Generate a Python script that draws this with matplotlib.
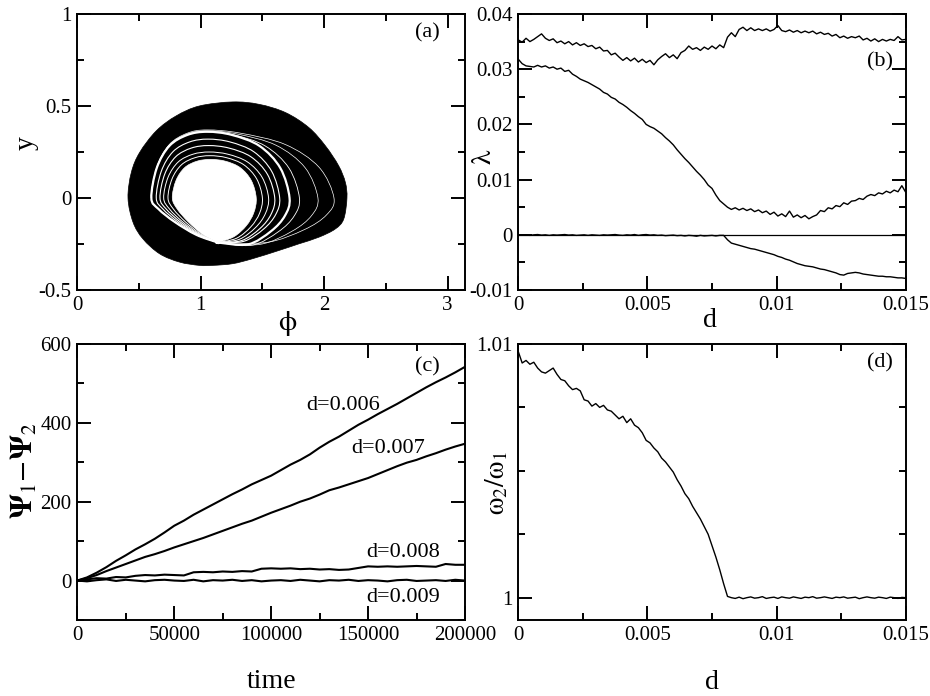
import numpy as np
import matplotlib
matplotlib.use('agg')
from matplotlib import pyplot as plt
from matplotlib.path import Path
from matplotlib.patches import PathPatch
from matplotlib.ticker import MultipleLocator, FixedLocator, FuncFormatter

plt.rcParams['font.family'] = 'Liberation Serif'
plt.rcParams['mathtext.fontset'] = 'stix'
plt.rcParams['axes.unicode_minus'] = False

# ---- (a) attractor in the (phi, y) plane: outer edge, inner hole, gaps between orbit bands
outer_phi = [0.411, 0.452, 0.532, 0.667, 0.828, 0.989, 1.097, 1.258, 1.419, 1.634, 1.796, 1.957,
             2.091, 2.159, 2.185, 2.172, 2.118, 2.011, 1.876, 1.688, 1.473, 1.258, 0.989, 0.801,
             0.640, 0.505, 0.438]
outer_y = [0.0, -0.132, -0.222, -0.303, -0.348, -0.366, -0.366, -0.357, -0.330, -0.285, -0.249, -0.213,
           -0.168, -0.114, 0.0, 0.085, 0.175, 0.283, 0.383, 0.464, 0.509, 0.522, 0.500, 0.446,
           0.365, 0.247, 0.139]

hole_phi = [0.77, 0.80, 0.87, 0.97, 1.08, 1.20, 1.32, 1.41, 1.45, 1.43, 1.37, 1.27, 1.14, 1.14,
            1.02, 0.90, 0.81]
hole_y = [0.0, 0.095, 0.165, 0.20, 0.21, 0.20, 0.165, 0.095, 0.0, -0.08, -0.15, -0.21, -0.242, -0.242,
          -0.20, -0.13, -0.06]
cusp_phi = 1.14

gap_left = [0.60, 0.64, 0.67, 0.70, 0.735, 0.60, 0.60, 0.60]
gap_right = [1.72, 1.64, 1.60, 1.55, 1.50, 1.80, 1.95, 2.08]
gap_top = [0.36, 0.32, 0.285, 0.25, 0.23, 0.36, 0.365, 0.37]
gap_bottom = [1.2, 1.12, 1.1, 1.07, 1.04, 1.22, 1.2, 1.15]
gap_lw = [1.6, 0.8, 0.8, 0.7, 0.7, 0.6, 0.5, 0.5]

# ---- (b) Lyapunov exponents vs coupling d
d_lyap = np.arange(101) * 0.00015
lam1 = [35.3, 34.9, 35.6, 35.0, 35.4, 35.9, 36.4, 35.6, 35.2, 35.5, 34.8, 35.1, 34.6, 35.0, 34.4,
        34.8, 34.3, 34.6, 34.1, 34.3, 33.7, 34.0, 33.3, 33.4, 32.6, 32.9, 32.2, 31.6, 32.1, 31.5,
        32.0, 31.3, 31.8, 31.2, 31.6, 30.8, 31.7, 32.3, 32.8, 32.1, 32.6, 31.9, 33.0, 33.4, 34.2,
        33.6, 33.9, 33.4, 34.0, 33.6, 34.2, 33.7, 34.4, 33.9, 35.8, 36.6, 35.9, 37.2, 37.6, 37.0,
        37.5, 37.0, 37.3, 37.0, 37.3, 36.9, 37.2, 37.9, 37.0, 36.8, 37.1, 36.7, 37.0, 36.6, 36.9,
        36.6, 36.9, 36.4, 36.7, 36.3, 36.5, 36.0, 36.3, 35.7, 36.0, 35.6, 35.9, 35.7, 36.0, 35.3,
        35.6, 35.1, 35.5, 35.0, 35.4, 35.1, 35.4, 35.2, 35.9, 35.3, 35.4]
lam2 = [31.8, 31.0, 30.6, 30.5, 30.4, 30.7, 30.4, 30.6, 30.2, 30.4, 30.0, 30.2, 29.6, 29.8, 29.1,
        28.7, 28.2, 27.9, 27.6, 27.2, 26.8, 26.4, 25.8, 25.5, 24.9, 24.6, 24.0, 23.6, 23.1, 22.5,
        22.0, 21.4, 20.9, 20.0, 19.6, 19.3, 18.8, 18.3, 17.6, 17.0, 16.3, 15.4, 14.6, 13.8, 13.1,
        12.3, 11.5, 10.8, 10.0, 9.0, 8.4, 7.2, 6.2, 5.6, 5.0, 4.6, 4.9, 4.5, 4.8, 4.4,
        4.7, 4.2, 4.5, 4.0, 4.3, 3.7, 4.1, 3.4, 3.8, 3.3, 4.3, 3.2, 3.6, 3.1, 3.5,
        2.9, 3.3, 3.6, 4.4, 4.2, 4.9, 4.7, 5.3, 5.1, 5.8, 5.5, 6.1, 6.2, 6.6, 6.4,
        7.0, 7.3, 7.1, 7.6, 7.4, 7.9, 7.6, 8.1, 7.8, 8.9, 7.7]
lam3 = [0.0, -0.05, 0.0, -0.1, 0.0, 0.05, -0.05, 0.0, -0.1, 0.0, -0.05, 0.0, 0.05, -0.05, 0.0,
        -0.1, -0.05, 0.0, -0.1, 0.0, -0.05, -0.1, 0.0, -0.05, 0.0, 0.05, -0.05, -0.1, 0.0, -0.05,
        0.05, -0.1, 0.0, 0.05, -0.05, 0.0, -0.1, -0.05, -0.15, -0.1, -0.05, -0.15, -0.1, -0.2, -0.1,
        -0.15, -0.25, -0.1, -0.2, -0.15, -0.1, -0.2, -0.1, -0.1, -0.9, -1.5, -1.7, -1.9, -2.1, -2.3,
        -2.5, -2.6, -2.8, -3.0, -3.2, -3.4, -3.6, -3.9, -4.1, -4.4, -4.6, -4.9, -5.2, -5.4, -5.6,
        -5.7, -5.8, -6.0, -6.2, -6.3, -6.5, -6.7, -6.9, -7.2, -7.3, -7.0, -6.9, -6.8, -6.9, -7.1,
        -7.2, -7.3, -7.4, -7.5, -7.5, -7.6, -7.6, -7.7, -7.8, -7.8, -7.9]

# ---- (c) phase difference growth for several d
time = np.arange(41) * 5000
psi_006 = [0, 8, 20, 34, 50, 64, 79, 92, 106, 122, 139, 152, 167, 180, 193, 206, 219, 231, 244, 255,
           266, 280, 294, 306, 320, 337, 352, 365, 380, 395, 408, 422, 435, 448, 462, 476, 490, 503,
           515, 528, 542]
psi_007 = [0, 6, 14, 24, 33, 42, 51, 60, 67, 75, 84, 92, 100, 108, 117, 126, 135, 144, 152, 162,
           172, 181, 190, 200, 208, 218, 229, 236, 244, 252, 260, 270, 280, 290, 299, 306, 315, 323,
           332, 340, 347]
psi_008 = [0, 3, 6, 5, 9, 8, 12, 14, 13, 15, 14, 13, 21, 22, 21, 23, 22, 24, 23, 30,
           31, 30, 31, 29, 30, 28, 29, 27, 28, 32, 36, 35, 36, 35, 36, 37, 36, 35, 42, 40, 40]
psi_009 = [0, -2, 1, 3, -1, 2, 0, -2, 1, 2, 0, -1, 2, -2, 1, 0, 2, -1, 1, -2, 0,
           1, -1, 2, 0, -2, 1, 0, 2, -1, 1, 0, -2, 1, 2, -1, 0, 1, -1, 2, 0]
psi_curves = [psi_006, psi_007, psi_008, psi_009]
psi_labels = ['d=0.006', 'd=0.007', 'd=0.008', 'd=0.009']
psi_label_t = [137000, 160200, 167900, 167900]
psi_label_v = [445, 336, 70, -42]

# ---- (d) rotation number ratio, stored as (ratio - 1) * 1000
ratio_dev = [9.7, 9.25, 9.35, 9.2, 9.28, 9.05, 8.9, 8.85, 8.95, 9.05, 8.8, 8.6, 8.55, 8.35, 8.2,
             8.25, 8.15, 7.8, 7.75, 7.55, 7.65, 7.5, 7.58, 7.4, 7.35, 7.2, 7.05, 7.15, 6.9, 7.05,
             6.8, 6.7, 6.5, 6.2, 6.1, 5.9, 5.75, 5.5, 5.35, 5.15, 4.95, 4.65, 4.4, 4.1, 3.9,
             3.6, 3.35, 3.1, 2.8, 2.5, 2.05, 1.6, 1.1, 0.55, 0.05, 0.0, -0.03, 0.02, -0.04, 0.0,
             0.03, -0.02, 0.0, 0.04, -0.03, 0.0, 0.02, -0.03, 0.03, 0.0, -0.02, 0.03, 0.0, -0.03, 0.02,
             0.0, 0.04, -0.02, 0.0, 0.03, 0.0, -0.03, 0.02, 0.0, 0.03, -0.02, 0.0, 0.02, -0.04, 0.0,
             0.03, 0.0, -0.02, 0.02, 0.0, -0.03, 0.02, 0.0, -0.03, 0.01, 0.0]


def smooth_closed(xs, ys):
    """Closed Catmull-Rom outline through the points, as a Bezier path."""
    pts = np.column_stack([xs, ys])
    n = len(pts)
    verts = [pts[0]]
    codes = [Path.MOVETO]
    for i in range(n):
        p0, p1, p2, p3 = pts[i - 1], pts[i], pts[(i + 1) % n], pts[(i + 2) % n]
        verts += [p1 + (p2 - p0) / 6, p2 - (p3 - p1) / 6, p2]
        codes += [Path.CURVE4] * 3
    return Path(verts, codes)


def gap_loop(left, right, top, bottom):
    # gaps have the shape of the hole, pinned at its cusp and stretched outward
    hx = np.array(hole_phi)
    hy = np.array(hole_y)
    sl = (cusp_phi - left) / (cusp_phi - min(hx))
    sr = (right - cusp_phi) / (max(hx) - cusp_phi)
    gx = cusp_phi + (hx - cusp_phi) * np.where(hx < cusp_phi, sl, sr)
    gy = np.where(hy >= 0, hy * top / max(hy), np.where(hx > cusp_phi, hy * bottom, hy))
    return gx, gy


def style_axes(ax):
    for s in ax.spines.values():
        s.set_linewidth(1.4)
    ax.tick_params(which='both', direction='in', top=True, right=True, width=1.4,
                   labelsize=15)
    ax.tick_params(which='major', length=10, pad=4)
    ax.tick_params(which='minor', length=5)
    fmt = FuncFormatter(lambda v, p: '%g' % round(v, 6))
    ax.xaxis.set_major_formatter(fmt)
    ax.yaxis.set_major_formatter(fmt)


fig = plt.figure(figsize=(9.3, 6.96), dpi=100)
ax_a = fig.add_axes([0.0831, 0.5833, 0.4169, 0.3966])
ax_b = fig.add_axes([0.5573, 0.5833, 0.4166, 0.3966])
ax_c = fig.add_axes([0.0831, 0.1092, 0.4169, 0.3966])
ax_d = fig.add_axes([0.5573, 0.1092, 0.4166, 0.3966])

# (a)
ax_a.add_patch(PathPatch(smooth_closed(outer_phi, outer_y), facecolor='k', edgecolor='k', lw=0.5))
ax_a.add_patch(PathPatch(smooth_closed(hole_phi, hole_y), facecolor='w', edgecolor='w', lw=0.5))
for L, R, T, B, lw in zip(gap_left, gap_right, gap_top, gap_bottom, gap_lw):
    gx, gy = gap_loop(L, R, T, B)
    ax_a.add_patch(PathPatch(smooth_closed(gx, gy), facecolor='none', edgecolor='w', lw=lw))
ax_a.set_xlim(0, np.pi)
ax_a.set_ylim(-0.5, 1)
ax_a.xaxis.set_major_locator(MultipleLocator(1))
ax_a.xaxis.set_minor_locator(MultipleLocator(0.5))
ax_a.yaxis.set_major_locator(MultipleLocator(0.5))
ax_a.yaxis.set_minor_locator(MultipleLocator(0.25))
style_axes(ax_a)
ax_a.set_xlabel(r'$\mathrm{\phi}$', fontsize=21)
ax_a.xaxis.set_label_coords(0.543, -0.12)
ax_a.set_ylabel('y', fontsize=20)
ax_a.yaxis.set_label_coords(-0.132, 0.533)
ax_a.text(0.902, 0.931, '(a)', transform=ax_a.transAxes, fontsize=16, ha='center', va='center')

# (b)
ax_b.plot(d_lyap, np.array(lam1) * 1e-3, color='k', lw=1.0)
ax_b.plot(d_lyap, np.array(lam2) * 1e-3, color='k', lw=1.0)
ax_b.plot(d_lyap, np.zeros_like(d_lyap), color='k', lw=0.9)
ax_b.plot(d_lyap, np.array(lam3) * 1e-3, color='k', lw=1.0)
ax_b.set_xlim(0, 0.015)
ax_b.set_ylim(-0.01, 0.04)
ax_b.xaxis.set_major_locator(MultipleLocator(0.005))
ax_b.xaxis.set_minor_locator(MultipleLocator(0.0025))
ax_b.yaxis.set_major_locator(MultipleLocator(0.01))
ax_b.yaxis.set_minor_locator(MultipleLocator(0.005))
style_axes(ax_b)
ax_b.set_xlabel('d', fontsize=20)
ax_b.xaxis.set_label_coords(0.494, -0.112)
ax_b.set_ylabel(r'$\mathrm{\lambda}$', fontsize=21)
ax_b.yaxis.set_label_coords(-0.0885, 0.482)
ax_b.text(0.934, 0.826, '(b)', transform=ax_b.transAxes, fontsize=16, ha='center', va='center')

# (c)
for psi in psi_curves:
    ax_c.plot(time, psi, color='k', lw=1.5)
for lab, t, v in zip(psi_labels, psi_label_t, psi_label_v):
    ax_c.text(t, v, lab, fontsize=16, ha='center', va='center')
ax_c.set_xlim(0, 200000)
ax_c.set_ylim(-100, 600)
ax_c.xaxis.set_major_locator(MultipleLocator(50000))
ax_c.xaxis.set_minor_locator(MultipleLocator(25000))
ax_c.yaxis.set_major_locator(MultipleLocator(200))
ax_c.yaxis.set_minor_locator(MultipleLocator(100))
style_axes(ax_c)
ax_c.set_xlabel('time', fontsize=20)
ax_c.xaxis.set_label_coords(0.5, -0.221)
ax_c.set_ylabel(r'$\mathbf{\Psi}_1\!-\!\mathbf{\Psi}_2$', fontsize=22)
ax_c.yaxis.set_label_coords(-0.135, 0.543)
ax_c.text(0.902, 0.917, '(c)', transform=ax_c.transAxes, fontsize=16, ha='center', va='center')

# (d)
ax_d.plot(d_lyap, 1 + np.array(ratio_dev) * 1e-3, color='k', lw=1.0)
ax_d.set_xlim(0, 0.015)
ax_d.set_ylim(0.99912, 1.01)
ax_d.xaxis.set_major_locator(MultipleLocator(0.005))
ax_d.xaxis.set_minor_locator(MultipleLocator(0.0025))
ax_d.yaxis.set_major_locator(FixedLocator([1.0, 1.01]))
ax_d.yaxis.set_minor_locator(FixedLocator([1.0025, 1.005, 1.0075]))
style_axes(ax_d)
ax_d.set_xlabel('d', fontsize=20)
ax_d.xaxis.set_label_coords(0.5, -0.228)
ax_d.set_ylabel(r'$\mathrm{\omega}_2/\mathrm{\omega}_1$', fontsize=20)
ax_d.yaxis.set_label_coords(-0.055, 0.496)
ax_d.text(0.934, 0.931, '(d)', transform=ax_d.transAxes, fontsize=16, ha='center', va='center')

for ax in (ax_a, ax_b, ax_c, ax_d):
    ax.xaxis.label.set_verticalalignment('center')
    ax.yaxis.label.set_verticalalignment('center')

fig.savefig('out.png', dpi=100)
